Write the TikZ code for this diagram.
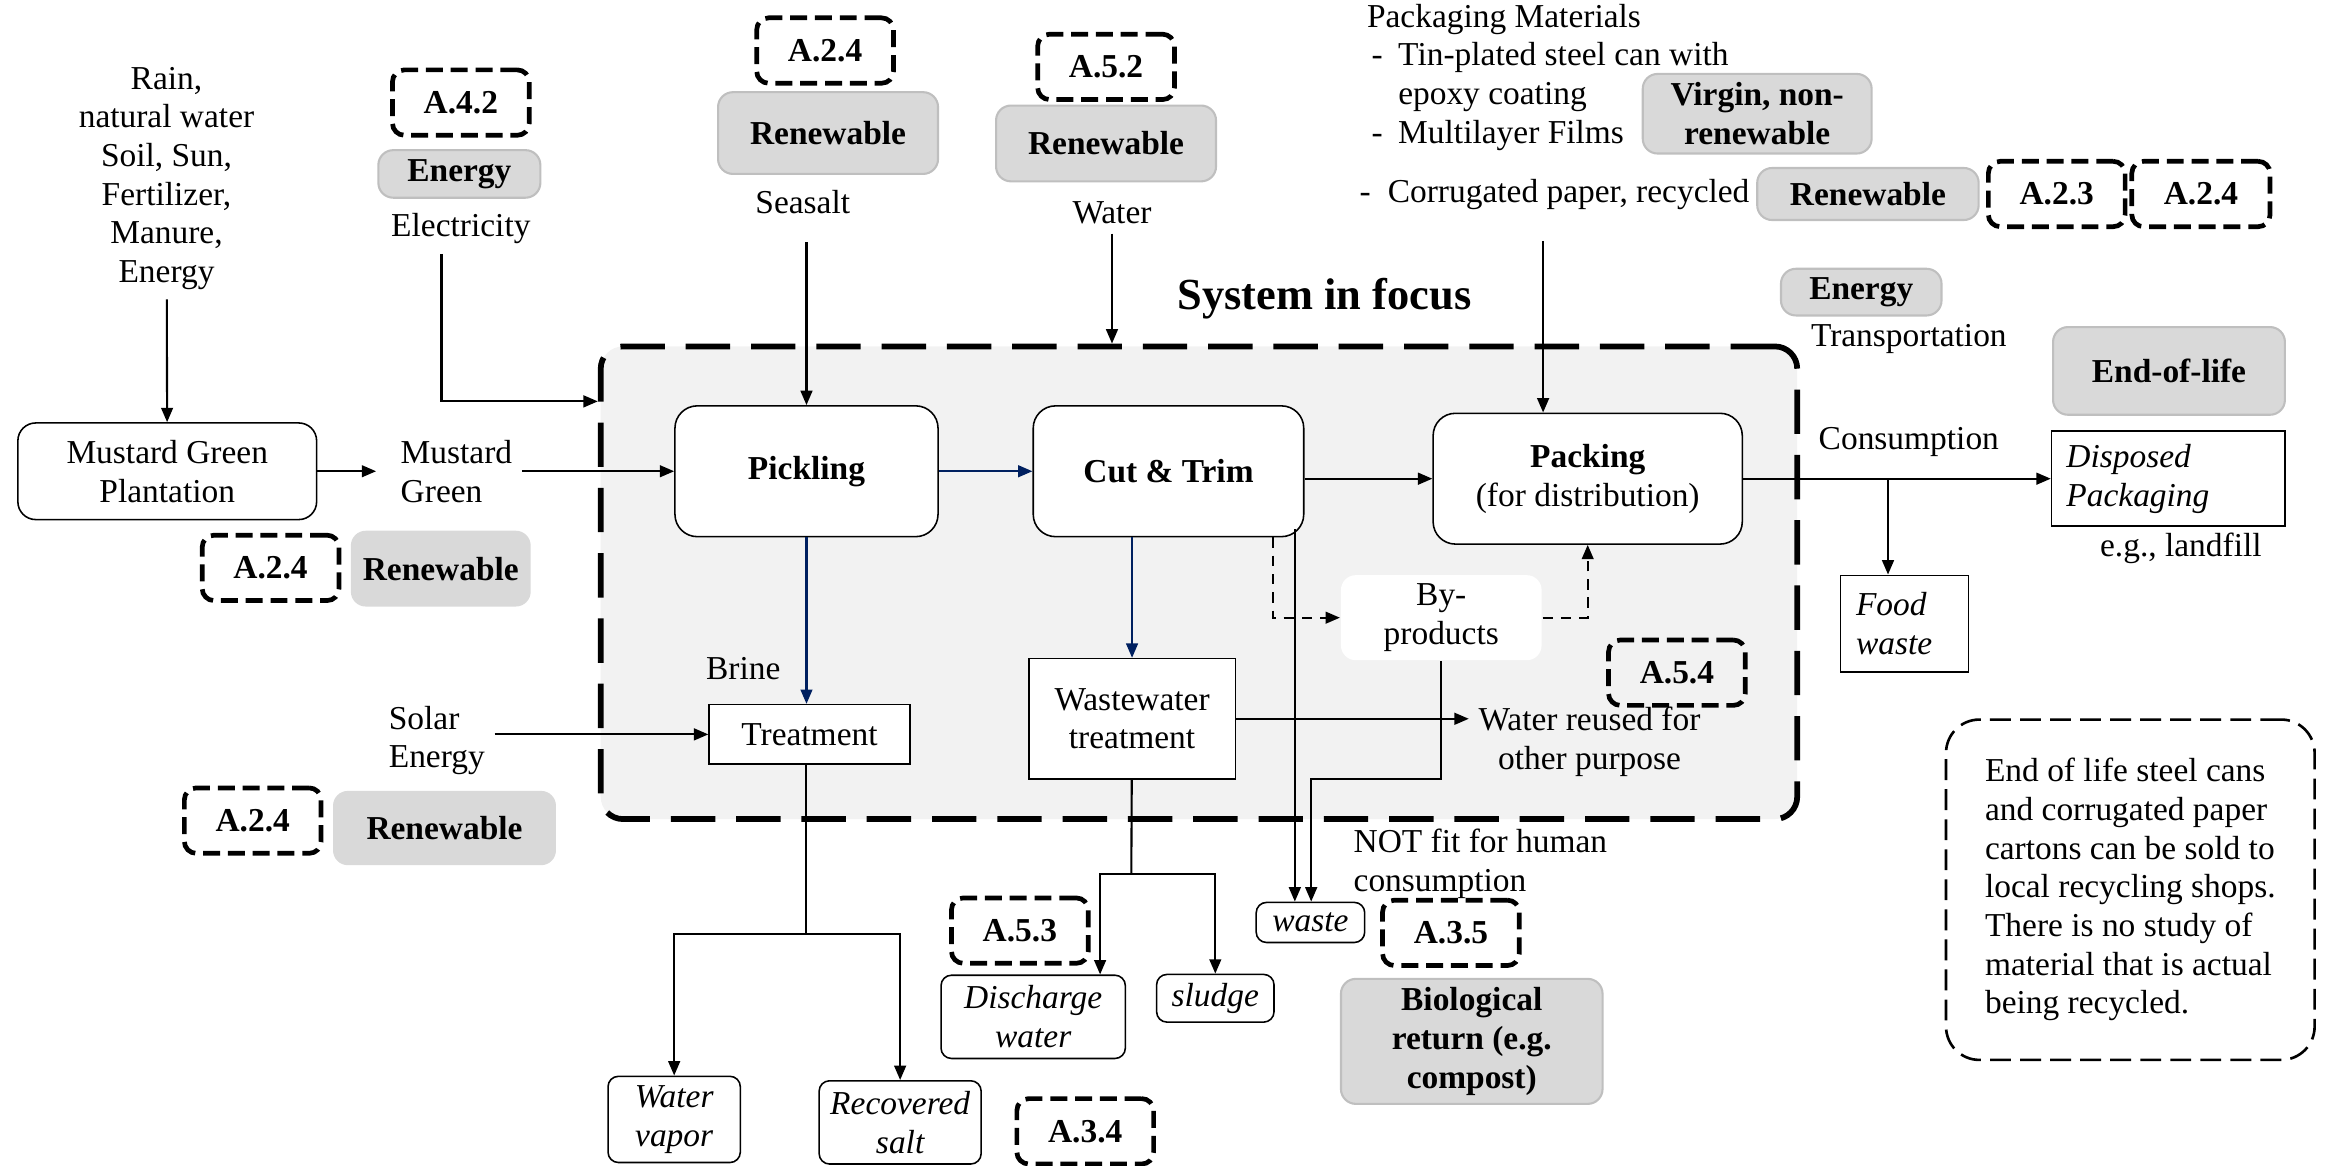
\documentclass[tikz,border=0pt]{standalone}
\usepackage{fontspec}
\setmainfont{Liberation Serif}
\usepackage{xcolor}
\usetikzlibrary{arrows.meta, positioning, calc}

\definecolor{navyflow}{HTML}{002060}
\definecolor{labelgray}{HTML}{D9D9D9}
\definecolor{labeledge}{HTML}{BFBFBF}
\definecolor{focusgray}{HTML}{F2F2F2}
\newcommand{\mainsize}{\fontsize{12.8}{14.8}\selectfont}

\begin{document}
\begin{tikzpicture}[x=0.02cm, y=-0.02cm, >={Triangle[length=5.5pt,width=4.5pt]}, font=\mainsize, line width=0.8pt,
  procbox/.style={draw, line width=0.6pt, fill=white, rounded corners=0.3cm, align=center, font=\mainsize\bfseries, minimum height=1.76cm},
  plainbox/.style={draw, line width=0.6pt, fill=white, align=center},
  outbox/.style={draw, line width=0.6pt, fill=white, rounded corners=0.14cm, align=center, font=\mainsize\itshape},
  graylbl/.style={draw=labeledge, line width=0.8pt, fill=labelgray, rounded corners=0.2cm, align=center, font=\mainsize\bfseries},
  reflbl/.style={draw, line width=1.8pt, dash pattern=on 6.5pt off 3pt, rounded corners=0.16cm, minimum width=1.84cm, minimum height=0.88cm, font=\mainsize\bfseries},
  sidefeed/.style={dash pattern=on 4pt off 3pt}]
\useasboundingbox (0,0) rectangle (1568,784);
% System boundary
\node[draw, line width=2.2pt, dash pattern=on 17pt off 8pt, fill=focusgray, rounded corners=0.3cm, minimum width=16.1cm, minimum height=6.36cm] (sys) at (806.5,392) {};
\node[font=\fontsize{17}{20}\selectfont\bfseries] (focus) at (891,201) {System in focus};
% Plantation
\node[align=center] (nature) at (112,120) {Rain,\\natural water\\Soil, Sun,\\Fertilizer,\\Manure,\\Energy};
\node[plainbox, rounded corners=0.24cm, minimum width=4.02cm, minimum height=1.3cm] (plant) at (112.5,317) {Mustard Green\\Plantation};
\draw[->] (nature) -- (plant);
\node[anchor=west, align=left] (greens) at (263,317) {Mustard\\Green};
\draw[->, shorten >=0.2cm] (plant) -- (greens);
% Processes
\node[procbox, minimum width=3.54cm] (pick) at (542.5,317) {Pickling};
\node[procbox, minimum width=3.64cm] (cut) at (786,317) {Cut \& Trim};
\node[procbox, minimum width=4.16cm, font=\mainsize] (pack) at (1068,322) {\textbf{Packing}\\(for distribution)};
\draw[->] (greens) -- (pick);
\draw[->, navyflow] (pick) -- (cut);
\draw[->] (cut.east |- pack.west) -- (pack.west);
% Electricity
\node[reflbl] (ref42) at (310,69) {A.4.2};
\node[graylbl, minimum width=2.18cm, minimum height=0.64cm] (energyA) at (309,117) {Energy};
\node (elec) at (310,154) {Electricity};
\coordinate (elecbend) at (297,270);
\draw[->] (elec.south -| elecbend) -- (elecbend) -- (elecbend -| sys.west);
\node[reflbl] (ref24a) at (182,382) {A.2.4};
\node[graylbl, draw=none, minimum width=2.42cm, minimum height=1.02cm] (renewA) at (296.5,382.5) {Renewable};
% Seasalt
\node[reflbl] (ref24b) at (555,34) {A.2.4};
\node[graylbl, minimum width=2.96cm, minimum height=1.1cm] (renewB) at (557,89.5) {Renewable};
\node (seasalt) at (540,136) {Seasalt};
\draw[->, shorten <=0.25cm] (seasalt.south -| pick.north) -- (pick.north);
% Water
\node[reflbl] (ref52) at (744,45) {A.5.2};
\node[graylbl, minimum width=2.96cm, minimum height=1.02cm] (renewC) at (744,96.5) {Renewable};
\node (water) at (748,143) {Water};
\draw[->] (water) -- (water |- sys.north);
% Brine treatment
\node[plainbox, minimum width=2.7cm, minimum height=0.8cm] (treat) at (544.5,494) {Treatment};
\node (brine) at (500,450) {Brine};
\draw[->, navyflow] (pick) -- (pick |- treat.north);
\node[anchor=west, align=left] (solar) at (255,498) {Solar\\Energy};
\draw[->] (solar.east |- treat.west) -- (treat.west);
\node[reflbl] (ref24c) at (170,552) {A.2.4};
\node[graylbl, draw=none, minimum width=3.0cm, minimum height=1.0cm] (renewD) at (299,557) {Renewable};
\node[outbox, minimum width=1.78cm, minimum height=1.16cm] (vapor) at (453.5,753) {Water\\vapor};
\node[outbox, minimum width=2.18cm, minimum height=1.12cm] (rsalt) at (605.5,755) {Recovered\\salt};
\node[reflbl] (ref34) at (730,761) {A.3.4};
\coordinate (treatsplit) at (542,628);
\draw (treat.south -| treatsplit) -- (treatsplit);
\draw[->] (treatsplit) -| (vapor);
\draw[->] (treatsplit) -| (rsalt);
% Wastewater
\node[plainbox, minimum width=2.78cm, minimum height=1.62cm] (wwt) at (761.5,483.5) {Wastewater\\treatment};
\draw[->, navyflow] (wwt.north |- cut.south) -- (wwt.north);
\node[anchor=west, align=center] (reuse) at (988,499) {Water reused for\\other purpose};
\draw[->] (wwt.east) -- (wwt.east -| reuse.west);
\node[reflbl] (ref54) at (1128,452.5) {A.5.4};
\node[outbox, minimum width=2.48cm, minimum height=1.12cm] (dischg) at (695,684) {Discharge\\water};
\node[outbox, minimum width=1.58cm, minimum height=0.58cm] (sludge) at (817.5,671.5) {sludge};
\node[reflbl] (ref53) at (686,626) {A.5.3};
\coordinate (wwtsplit) at (761,588);
\coordinate (dischtop) at (740,588);
\draw (wwt) -- (wwtsplit);
\draw[->] (wwtsplit) -- (dischtop) -- (dischtop |- dischg.north);
\draw[->] (wwtsplit) -| (sludge);
% By-products and waste
\node[fill=white, rounded corners=0.2cm, minimum width=2.7cm, minimum height=1.02cm, align=center] (byprod) at (969.5,415.5) {By-\\products};
\coordinate (cutside) at (856,415);
\draw[->, sidefeed] (cut.south -| cutside) |- (byprod.west);
\draw[->, sidefeed] (byprod.east) -| (pack.south);
\node[outbox, minimum width=1.46cm, minimum height=0.54cm] (waste) at (881.5,620.5) {waste};
\coordinate (cutwaste) at (871,356);
\draw[->] (cutwaste) -- (cutwaste |- waste.north);
\coordinate (bywaste) at (882,524);
\draw[->] (byprod) |- (bywaste) -- (bywaste |- waste.north);
\node[anchor=west, align=left] (notfit) at (904,581) {NOT fit for human\\consumption};
\node[reflbl] (ref35) at (976,627.5) {A.3.5};
\node[graylbl, minimum width=3.52cm, minimum height=1.66cm] (bioret) at (990,700.5) {Biological\\return (e.g.\\compost)};
% Packaging materials
\node[anchor=west, align=left] (pkgmat) at (913,52) {Packaging Materials\\
  \makebox[0.42cm][l]{\hspace{0.06cm}-}Tin-plated steel can with\\
  \hspace*{0.42cm}epoxy coating\\
  \makebox[0.42cm][l]{\hspace{0.06cm}-}Multilayer Films};
\node[anchor=west] (corrug) at (908,131) {\makebox[0.38cm][l]{-}Corrugated paper, recycled};
\node[graylbl, minimum width=3.08cm, minimum height=1.02cm] (virgin) at (1182,76.5) {Virgin, non-\\renewable};
\node[graylbl, minimum width=2.98cm, minimum height=0.7cm] (renewE) at (1256.5,130.5) {Renewable};
\node[reflbl] (ref23) at (1383.5,130.5) {A.2.3};
\node[reflbl, minimum width=1.86cm] (ref24d) at (1480.5,130.5) {A.2.4};
\coordinate (pkgfeed) at (1038,162);
\draw[->] (pkgfeed) -- (pkgfeed |- pack.north);
% Consumption and end of life
\node[graylbl, minimum width=2.16cm, minimum height=0.62cm] (energyB) at (1252,196.5) {Energy};
\node (transp) at (1284,228) {Transportation};
\node[graylbl, minimum width=3.12cm, minimum height=1.18cm] (eol) at (1459,249.5) {End-of-life};
\node (consum) at (1284,297) {Consumption};
\node[plainbox, text width=2.74cm, inner xsep=0.2cm, minimum height=1.28cm, align=left, font=\mainsize\itshape] (disposed) at (1458.5,322) {Disposed\\Packaging};
\draw[->] (pack) -- (disposed);
\node (landfill) at (1467,369) {e.g., landfill};
\node[plainbox, text width=1.3cm, inner xsep=0.21cm, minimum height=1.3cm, align=left, font=\mainsize\itshape] (foodw) at (1281,419.5) {Food\\waste};
\coordinate (consbranch) at (1270,322);
\draw[->] (consbranch) -- (consbranch |- foodw.north);
% Note
\node[draw, line width=1pt, dash pattern=on 8pt off 3.5pt, rounded corners=0.45cm, minimum width=4.96cm, minimum height=4.58cm, align=left] (note) at (1433,598.5) {End of life steel cans\\and corrugated paper\\cartons can be sold to\\local recycling shops.\\There is no study of\\material that is actual\\being recycled.};
\end{tikzpicture}
\end{document}
